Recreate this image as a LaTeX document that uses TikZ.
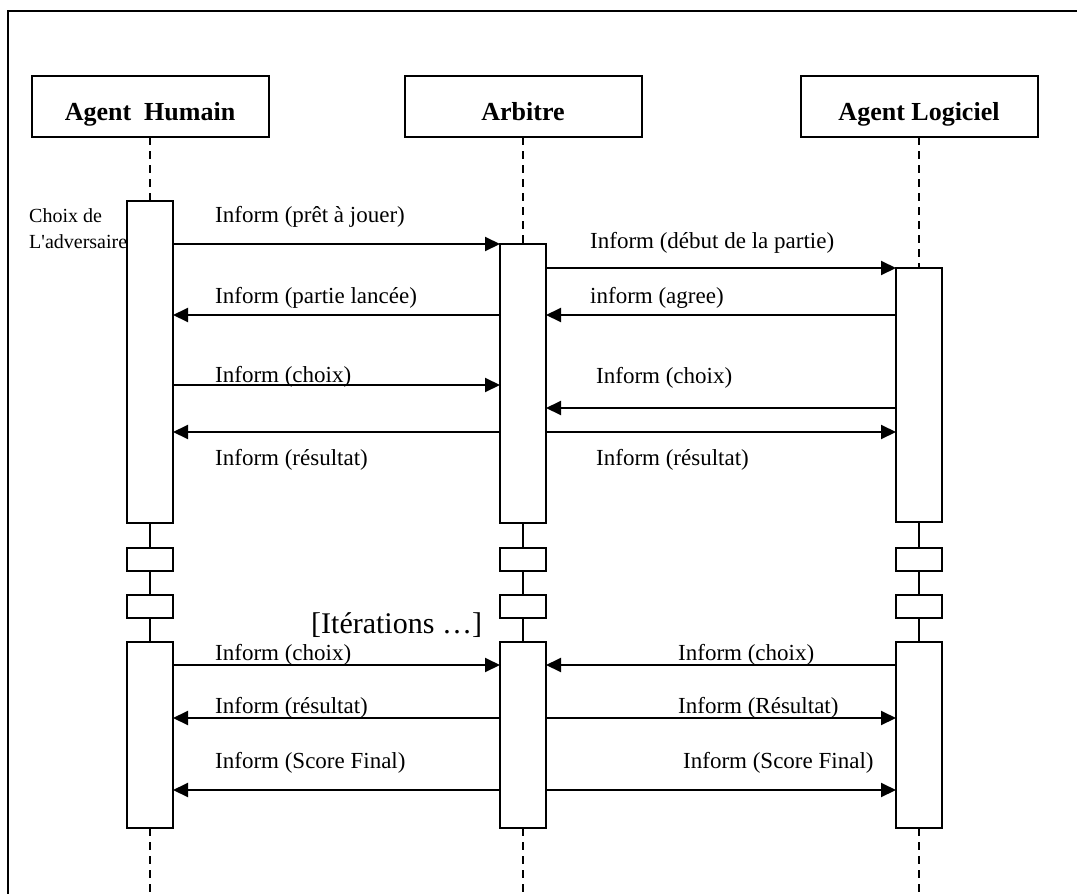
\documentclass[tikz,border=0pt]{standalone}
\usepackage{fontspec}
\setmainfont{Liberation Serif}
\usetikzlibrary{arrows.meta}

\newcommand{\lblsize}{\fontsize{23}{27}\selectfont}
\newcommand{\headsize}{\fontsize{26}{31}\selectfont\bfseries}

\tikzset{
  head/.style={draw, line width=2pt, minimum width=237pt, minimum height=61pt,
               inner sep=0pt, outer sep=0pt, text height=27pt, text depth=0pt,
               font=\headsize},
  act/.style={draw, line width=2pt, fill=white, minimum width=46pt,
              inner sep=0pt, outer sep=0pt},
  brk/.style={act, minimum height=23pt},
  life/.style={line width=1.5pt, dash pattern=on 8pt off 6pt},
  link/.style={line width=2pt},
  msg/.style={-{Triangle[length=15pt, width=14pt]}, line width=2pt},
  lbl/.style={anchor=base west, inner sep=0pt, font=\lblsize},
  note/.style={anchor=base west, inner sep=0pt, font=\fontsize{20}{24}\selectfont},
}

\begin{document}
\begin{tikzpicture}[x=1pt, y=-1pt]
  \useasboundingbox (0,0) rectangle (1077,894);
  % open frame
  \draw[line width=1.5pt] (8,894) -- (8,11) -- (1077,11);

  % lifelines: name/x/top of first bar/height of first bar/title
  \foreach \n/\x/\t/\h/\name in {hum/150/201/322/{Agent\ \ Humain},
                                 arb/523/244/279/{Arbitre},
                                 log/919/268/254/{Agent Logiciel}} {
    \node[head] (\n) at (\x,106.5) {\name};
    \node[act, anchor=north, minimum height=\h pt] (\n1) at (\x,\t) {};
    \node[brk, anchor=north] (\n2) at (\x,548) {};
    \node[brk, anchor=north] (\n3) at (\x,595) {};
    \node[act, anchor=north, minimum height=186pt] (\n4) at (\x,642) {};
    \coordinate (\n end) at (\x,894);
    \draw[life] (\n) -- (\n1);
    \draw[link] (\n1) -- (\n2);
    \draw[link] (\n2) -- (\n3);
    \draw[link] (\n3) -- (\n4);
    \draw[life] (\n4) -- (\n end);
  }

  \node[note] (adv1) at (29,222) {Choix de};
  \node[note] (adv2) at (29,248) {L\textquotesingle adversaire};

  % first round
  \draw[msg] (hum1.east |- 0,244) -- (arb1.west |- 0,244);
  \node[lbl] (m1) at (215,222) {Inform (prêt à jouer)};
  \draw[msg] (arb1.east |- 0,268) -- (log1.west |- 0,268);
  \node[lbl] (m2) at (590,248) {Inform (début de la partie)};
  \draw[msg] (arb1.west |- 0,315) -- (hum1.east |- 0,315);
  \node[lbl] (m3) at (215,303) {Inform (partie lancée)};
  \draw[msg] (log1.west |- 0,315) -- (arb1.east |- 0,315);
  \node[lbl] (m4) at (590,303) {inform (agree)};
  \draw[msg] (hum1.east |- 0,385) -- (arb1.west |- 0,385);
  \node[lbl] (m5) at (215,382) {Inform (choix)};
  \draw[msg] (log1.west |- 0,408) -- (arb1.east |- 0,408);
  \node[lbl] (m6) at (596,383) {Inform (choix)};
  \draw[msg] (arb1.west |- 0,432) -- (hum1.east |- 0,432);
  \node[lbl] (m7) at (215,465) {Inform (résultat)};
  \draw[msg] (arb1.east |- 0,432) -- (log1.west |- 0,432);
  \node[lbl] (m8) at (596,465) {Inform (résultat)};

  \node[lbl, font=\fontsize{30}{36}\selectfont] (iter) at (311,633) {[Itérations …]};

  % last round
  \draw[msg] (hum4.east |- 0,665) -- (arb4.west |- 0,665);
  \node[lbl] (n1) at (215,660) {Inform (choix)};
  \draw[msg] (log4.west |- 0,665) -- (arb4.east |- 0,665);
  \node[lbl] (n2) at (678,660) {Inform (choix)};
  \draw[msg] (arb4.west |- 0,718) -- (hum4.east |- 0,718);
  \node[lbl] (n3) at (215,713) {Inform (résultat)};
  \draw[msg] (arb4.east |- 0,718) -- (log4.west |- 0,718);
  \node[lbl] (n4) at (678,713) {Inform (Résultat)};
  \draw[msg] (arb4.west |- 0,790) -- (hum4.east |- 0,790);
  \node[lbl] (n5) at (215,768) {Inform (Score Final)};
  \draw[msg] (arb4.east |- 0,790) -- (log4.west |- 0,790);
  \node[lbl] (n6) at (683,768) {Inform (Score Final)};
\end{tikzpicture}
\end{document}
